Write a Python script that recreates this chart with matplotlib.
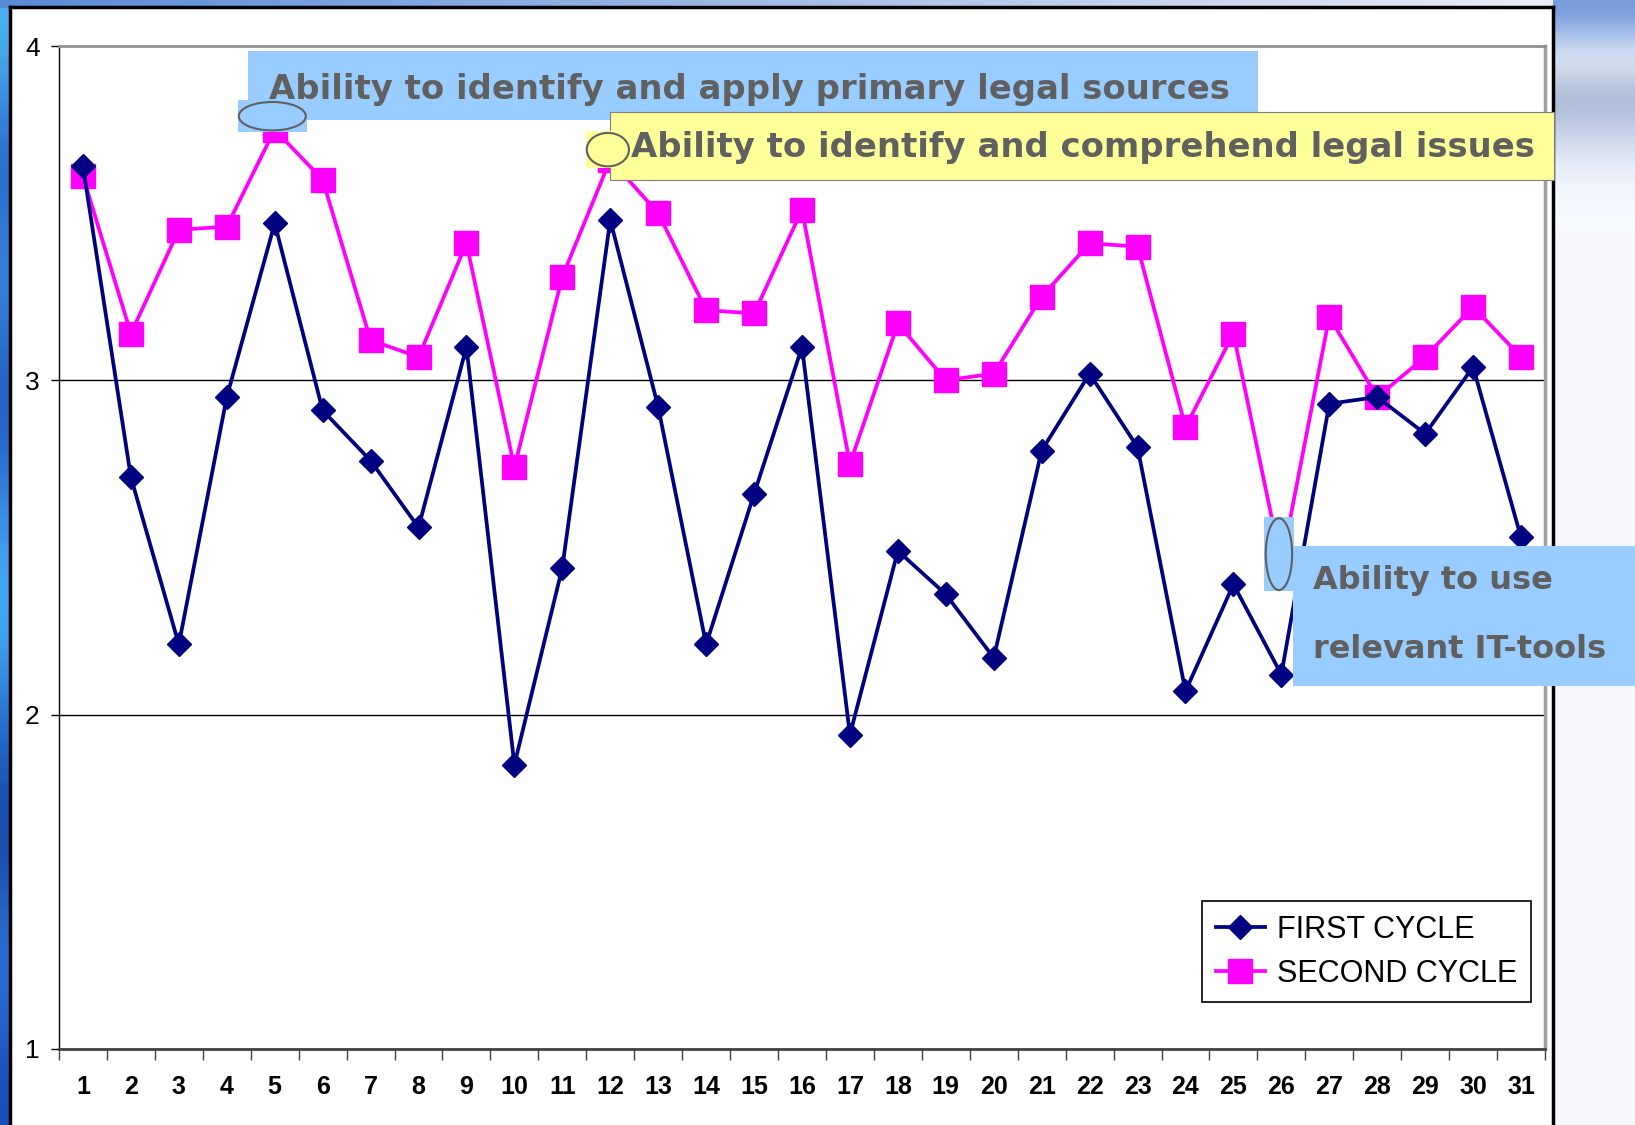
import numpy as np
import matplotlib
matplotlib.use('Agg')
import matplotlib.pyplot as plt
from matplotlib.patches import Rectangle, Ellipse
from matplotlib.ticker import FixedLocator, NullFormatter

# values
items = list(range(1, 32))
first_cycle = [3.64, 2.71, 2.21, 2.95, 3.47, 2.91, 2.76, 2.56, 3.10, 1.85,
               2.44, 3.48, 2.92, 2.21, 2.66, 3.10, 1.94, 2.49, 2.36, 2.17,
               2.79, 3.02, 2.80, 2.07, 2.39, 2.12, 2.93, 2.95, 2.84, 3.04,
               2.53]
second_cycle = [3.61, 3.14, 3.45, 3.46, 3.75, 3.60, 3.12, 3.07, 3.41, 2.74,
                3.31, 3.66, 3.50, 3.21, 3.20, 3.51, 2.75, 3.17, 3.00, 3.02,
                3.25, 3.41, 3.40, 2.86, 3.14, 2.45, 3.19, 2.95, 3.07, 3.22,
                3.07]
y_ticks = [1, 2, 3, 4]
series_names = ['FIRST CYCLE', 'SECOND CYCLE']

callout_1 = 'Ability to identify and apply primary legal sources'
callout_2 = 'Ability to identify and comprehend legal issues'
callout_3 = ['Ability to use', 'relevant IT-tools']

W, H = 1635, 1125
fig = plt.figure(figsize=(W / 100, H / 100), dpi=100)
fig.patch.set_facecolor('#f6f7fb')


def fx(px):
    return px / W


def fy(py):
    # pixel row from top -> figure fraction
    return 1 - py / H


# slide background bits around the chart
left = fig.add_axes([0, 0, fx(14), 1], zorder=-3)
cols = np.array([[0.30, 0.70, 0.95], [0.12, 0.35, 0.75], [0.25, 0.60, 0.92],
                 [0.10, 0.30, 0.70], [0.22, 0.55, 0.90], [0.30, 0.72, 0.96],
                 [0.12, 0.40, 0.80], [0.08, 0.25, 0.60], [0.20, 0.50, 0.88],
                 [0.10, 0.30, 0.72]])
left.imshow(cols[:, None, :], aspect='auto', interpolation='bicubic')
left.axis('off')

top = fig.add_axes([0, fy(8), 1, 8 / H], zorder=-3)
grad = np.linspace(0, 1, 50)
tcol = np.stack([0.35 + 0.6 * grad, 0.55 + 0.4 * grad, 0.85 + 0.13 * grad], axis=-1)
top.imshow(tcol[None, :, :], aspect='auto', interpolation='bicubic')
top.axis('off')

right = fig.add_axes([fx(1553), fy(230), fx(82), 230 / H], zorder=-3)
rcol = np.array([[0.45, 0.60, 0.85], [0.95, 0.97, 1.0], [0.62, 0.68, 0.80],
                 [0.80, 0.84, 0.92], [0.93, 0.95, 0.99], [0.97, 0.98, 1.0]])
right.imshow(rcol[:, None, :], aspect='auto', interpolation='bicubic')
right.axis('off')

# white chart frame (behind the plot axes)
frame = fig.add_axes([fx(10), -0.01, fx(1553 - 10), fy(7) + 0.01], zorder=-2)
frame.set_xticks([])
frame.set_yticks([])
for s in frame.spines.values():
    s.set_linewidth(2.5)
    s.set_color('black')

ax = fig.add_axes([fx(59), fy(1049), fx(1545 - 59), (1049 - 46) / H], zorder=1)
ax.set_facecolor('white')

ax.plot(items, first_cycle, color='#000080', linewidth=2.7, marker='D',
        markersize=12, label=series_names[0], zorder=4)
ax.plot(items, second_cycle, color='#ff00ff', linewidth=2.7, marker='s',
        markersize=17, label=series_names[1], zorder=3)

ax.set_xlim(0.5, 31.5)
ax.set_ylim(1, 4)
ax.set_yticks(y_ticks)
ax.set_yticklabels([str(v) for v in y_ticks], fontsize=19,
                   family=['Liberation Sans', 'DejaVu Sans'])
for v in y_ticks[1:-1]:
    ax.axhline(v, color='black', linewidth=1, zorder=1)

ax.set_xticks(items)
ax.set_xticklabels([str(i) for i in items], fontsize=18, fontweight='bold',
                   family=['Liberation Sans', 'DejaVu Sans'])
ax.xaxis.set_minor_locator(FixedLocator(np.arange(0.5, 32, 1)))
ax.xaxis.set_minor_formatter(NullFormatter())
ax.tick_params(axis='x', which='major', length=0, pad=19)
ax.tick_params(axis='x', which='minor', length=8, width=1, color='#404040')
ax.tick_params(axis='y', length=6, width=1, pad=8)

ax.spines['left'].set_color('black')
ax.spines['left'].set_linewidth(1)
ax.spines['bottom'].set_color('#404040')
ax.spines['bottom'].set_linewidth(2)
ax.spines['top'].set_color('#909090')
ax.spines['top'].set_linewidth(2)
ax.spines['right'].set_color('#a0a0a0')
ax.spines['right'].set_linewidth(2.5)

leg = ax.legend(loc='upper right', bbox_to_anchor=(fx(1531), fy(901)),
                bbox_transform=fig.transFigure, borderaxespad=0,
                fancybox=False, edgecolor='black', framealpha=1,
                prop={'family': ['Liberation Sans', 'DejaVu Sans'], 'size': 22},
                handlelength=1.6, handletextpad=0.4, labelspacing=0.45,
                borderpad=0.45)
leg.get_frame().set_linewidth(1.2)

# callout boxes on top of everything
blue = '#99ccff'
yellow = '#ffff99'
tcolor = '#606060'
cfont = ['DejaVu Sans']
over = fig.add_axes([0, 0, 1, 1], zorder=5)
over.set_xlim(0, W)
over.set_ylim(H, 0)
over.axis('off')
over.patch.set_alpha(0)

over.add_patch(Rectangle((248, 51), 1258 - 248, 69, facecolor=blue,
                         edgecolor='none', zorder=1))
over.text(269, 89, callout_1, fontsize=24.4, fontweight='bold',
          color=tcolor, family=cfont, va='center', zorder=2)

over.add_patch(Rectangle((610, 112), 1554 - 610, 68, facecolor=yellow,
                         edgecolor='#808080', linewidth=0.8, zorder=3))
over.text(631, 148, callout_2, fontsize=24.4, fontweight='bold',
          color=tcolor, family=cfont, va='center', zorder=4)

over.add_patch(Rectangle((1293, 546), 1635 - 1293, 140, facecolor=blue,
                         edgecolor='none', zorder=1))
over.text(1313, 580, callout_3[0], fontsize=23, fontweight='bold',
          color=tcolor, family=cfont, va='center', zorder=2)
over.text(1313, 650, callout_3[1], fontsize=23, fontweight='bold',
          color=tcolor, family=cfont, va='center', zorder=2)

# small ellipses marking the highlighted points (placed in data units)
marks = [(5, second_cycle[4] + 0.04, 1.45, 0.095, 1.4, 0.085, blue),
         (12, second_cycle[11] + 0.03, 0.9, 0.11, 0.88, 0.10, yellow),
         (26, second_cycle[25] + 0.03, 0.61, 0.22, 0.55, 0.215, blue)]
for x, y, rw, rh, ew, eh, c in marks:
    cx = x - 0.05
    over.add_patch(Rectangle((cx - rw / 2, y - rh / 2), rw, rh, facecolor=c,
                             edgecolor='none', zorder=5, clip_on=False,
                             transform=ax.transData))
    over.add_patch(Ellipse((cx, y), ew, eh, facecolor='none', edgecolor='#606060',
                           linewidth=1.5, zorder=6, clip_on=False,
                           transform=ax.transData))

fig.savefig('out.png', dpi=100, facecolor=fig.get_facecolor())
